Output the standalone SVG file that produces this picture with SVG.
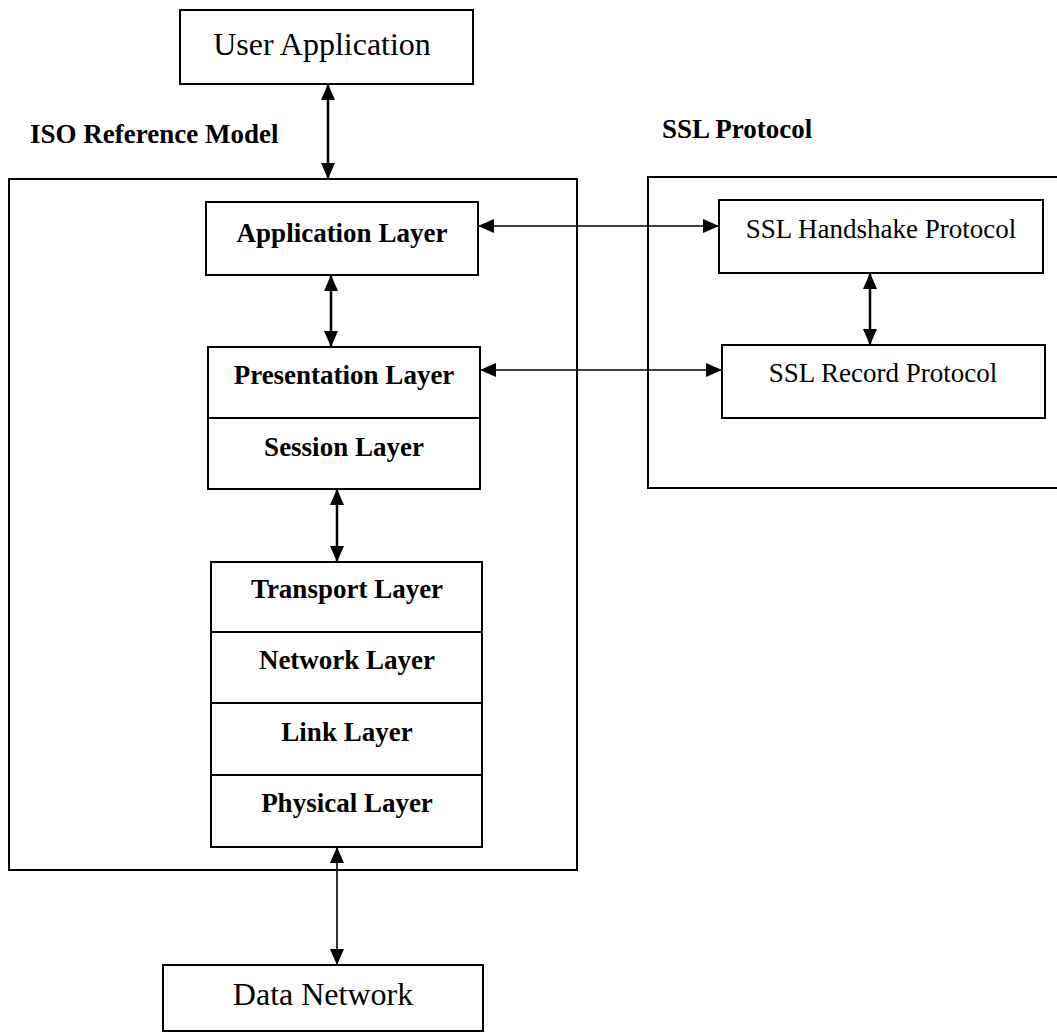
<svg xmlns="http://www.w3.org/2000/svg" width="1057" height="1035" viewBox="0 0 1057 1035">
  <style>
    .box { fill: #fff; stroke: #000; stroke-width: 2; }
    .frame { fill: none; stroke: #000; stroke-width: 2; }
    .div { stroke: #000; stroke-width: 2; }
    .lbl { font-family: "Liberation Serif", "Times New Roman", serif; font-size: 27px; font-weight: bold; text-anchor: middle; fill: #000; }
    .big { font-family: "Liberation Serif", "Times New Roman", serif; font-size: 32px; text-anchor: middle; fill: #000; }
    .ssl { font-family: "Liberation Serif", "Times New Roman", serif; font-size: 27px; text-anchor: middle; fill: #000; }
    .title { font-family: "Liberation Serif", "Times New Roman", serif; font-size: 27px; font-weight: bold; fill: #000; }
    .arr { fill: none; stroke: #000; stroke-width: 2.5; marker-start: url(#head); marker-end: url(#head); }
    .arr.thin { stroke-width: 1.6; }
  </style>
  <defs>
    <marker id="head" viewBox="0 0 16 14" refX="15" refY="7" markerWidth="16" markerHeight="14" markerUnits="userSpaceOnUse" orient="auto-start-reverse">
      <path d="M0,0 L16,7 L0,14 z" fill="#000"/>
    </marker>
  </defs>

  <rect width="1057" height="1035" fill="#fff"/>

  <!-- group frames and their captions -->
  <g id="iso-model">
    <rect class="frame" x="9" y="179" width="568" height="691"/>
    <text class="title" x="30" y="143">ISO Reference Model</text>
  </g>
  <g id="ssl-protocol">
    <rect class="frame" x="648" y="177" width="420" height="311"/>
    <text class="title" x="662" y="138">SSL Protocol</text>
  </g>

  <g id="user-application">
    <rect class="box" x="180" y="10" width="293" height="74"/>
    <text class="big" x="322" y="55">User Application</text>
  </g>

  <g id="application-layer">
    <rect class="box" x="206" y="202" width="272" height="73"/>
    <text class="lbl" x="342" y="242">Application Layer</text>
  </g>

  <g id="presentation-session">
    <rect class="box" x="208" y="347" width="272" height="142"/>
    <line class="div" x1="208" y1="418" x2="480" y2="418"/>
    <text class="lbl" x="344" y="384">Presentation Layer</text>
    <text class="lbl" x="344" y="456">Session Layer</text>
  </g>

  <g id="lower-layers">
    <rect class="box" x="211" y="562" width="271" height="285"/>
    <line class="div" x1="211" y1="632" x2="482" y2="632"/>
    <line class="div" x1="211" y1="703" x2="482" y2="703"/>
    <line class="div" x1="211" y1="775" x2="482" y2="775"/>
    <text class="lbl" x="347" y="598">Transport Layer</text>
    <text class="lbl" x="347" y="669">Network Layer</text>
    <text class="lbl" x="347" y="741">Link Layer</text>
    <text class="lbl" x="347" y="812">Physical Layer</text>
  </g>

  <g id="data-network">
    <rect class="box" x="163" y="965" width="320" height="66"/>
    <text class="big" x="323" y="1005">Data Network</text>
  </g>

  <g id="ssl-handshake">
    <rect class="box" x="719" y="200" width="324" height="73"/>
    <text class="ssl" x="881" y="238">SSL Handshake Protocol</text>
  </g>

  <g id="ssl-record">
    <rect class="box" x="722" y="345" width="323" height="73"/>
    <text class="ssl" x="883" y="382">SSL Record Protocol</text>
  </g>

  <!-- connectors -->
  <g id="connectors">
    <line class="arr" x1="328" y1="85" x2="328" y2="178"/>
    <line class="arr" x1="331" y1="276" x2="331" y2="346"/>
    <line class="arr" x1="337" y1="490" x2="337" y2="561"/>
    <line class="arr thin" x1="337" y1="848" x2="337" y2="964"/>
    <line class="arr" x1="870" y1="274" x2="870" y2="344"/>
    <line class="arr thin" x1="479" y1="226" x2="718" y2="226"/>
    <line class="arr thin" x1="481" y1="370" x2="721" y2="370"/>
  </g>
</svg>
